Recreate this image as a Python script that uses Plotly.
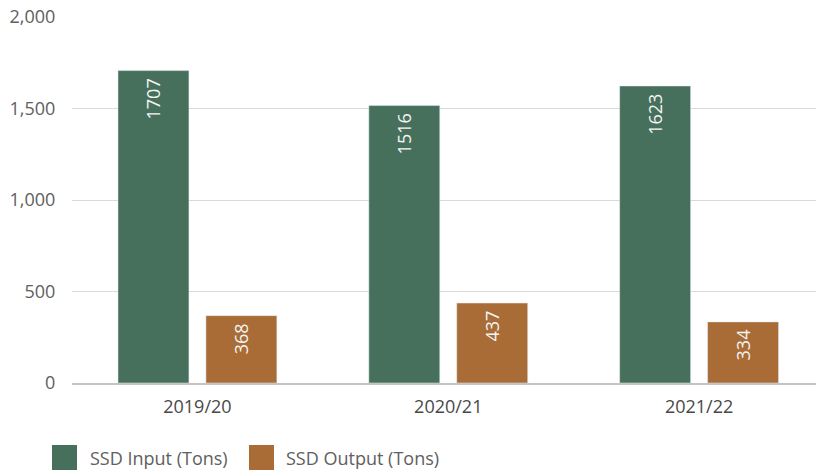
import plotly.graph_objects as go

categories = ["2019/20", "2020/21", "2021/22"]
ssd_input = [1707, 1516, 1623]
ssd_output = [368, 437, 334]
series_names = ["SSD Input (Tons)", "SSD Output (Tons)"]
colors = ["#46705C", "#A96C36"]
y_ticks = [0, 500, 1000, 1500, 2000]

W, H = 816, 470
ml, mr, mt, mb = 72, 0, 17, 87
font = "Open Sans"
fs = 18

fig = go.Figure()
for name, vals, col in zip(series_names, [ssd_input, ssd_output], colors):
    fig.add_trace(go.Bar(
        x=categories, y=vals, name=name, marker_color=col,
        text=[str(v) + "\u00a0" for v in vals], textposition="inside",
        textangle=-90, insidetextanchor="end",
        textfont=dict(color="#F4F4F4", size=fs, family=font),
        showlegend=False,
    ))

# manual legend (large square swatches)
pw = W - ml - mr
ph = H - mt - mb
def px_to_paper_x(px):
    return (px - ml) / pw
def px_to_paper_y(py):
    return (H - mb - py) / ph

legend_items = [(52, 88), (249, 284)]
for (sx, tx), name, col in zip(legend_items, series_names, colors):
    fig.add_shape(type="rect", xref="paper", yref="paper",
                  x0=px_to_paper_x(sx), x1=px_to_paper_x(sx + 25),
                  y0=px_to_paper_y(470), y1=px_to_paper_y(445),
                  fillcolor=col, line_width=0)
    fig.add_annotation(xref="paper", yref="paper",
                       x=px_to_paper_x(tx), y=px_to_paper_y(458),
                       xanchor="left", yanchor="middle", showarrow=False,
                       text=name, font=dict(size=fs, color="#606060", family=font))

fig.update_layout(
    width=W, height=H,
    margin=dict(l=ml, r=mr, t=mt, b=mb, autoexpand=False),
    plot_bgcolor="white", paper_bgcolor="white",
    barmode="group", bargap=0.299, bargroupgap=0.193,
    font=dict(family=font, size=fs, color="#595959"),
    uniformtext=dict(minsize=fs, mode="show"),
)
fig.update_xaxes(
    type="category", range=[-0.5, 2.466], automargin=False,
    showline=True, linecolor="#C4C4C4", linewidth=2,
    ticks="outside", ticklen=6, tickcolor="rgba(0,0,0,0)",
    tickfont=dict(size=fs, color="#484848", family=font),
    showgrid=False,
)
fig.update_yaxes(
    range=[0, 2000], tickvals=y_ticks, tickformat=",", automargin=False,
    showgrid=True, gridcolor="#D9D9D9", gridwidth=1,
    zeroline=False, showline=False,
    ticks="outside", ticklen=12, tickcolor="rgba(0,0,0,0)",
    tickfont=dict(size=fs, color="#606060", family=font),
)

fig.write_html("out.html", config={"displayModeBar": False},
               post_script="document.body.style.margin='0';document.body.style.padding='0';")
